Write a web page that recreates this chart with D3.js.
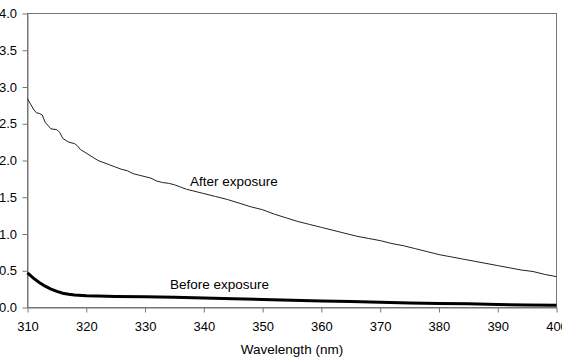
<!DOCTYPE html>
<html><head><meta charset="utf-8">
<script src="https://cdn.jsdelivr.net/npm/d3@7/dist/d3.min.js"></script>
<style>body{margin:0;background:#fff;}svg{display:block;}</style>
</head><body>
<svg id="chart" width="562" height="357"></svg>
<script>
const afterWl = [310,311,311.5,312,312.5,313,314,315,315.5,316,317,318,318.5,319,320,321,322,323,324,325,326,327,328,329,330,331,332,333,334,335,336,337,338,339,340,342,344,346,348,350,352,354,356,358,360,362,364,366,368,370,372,374,376,378,380,382,384,386,388,390,392,394,396,398,400];
const afterVal = [2.84,2.70,2.65,2.64,2.62,2.52,2.43,2.42,2.38,2.30,2.25,2.23,2.20,2.15,2.10,2.05,2.00,1.97,1.94,1.91,1.88,1.86,1.82,1.80,1.78,1.76,1.72,1.70,1.69,1.67,1.64,1.61,1.59,1.57,1.55,1.51,1.47,1.42,1.37,1.33,1.27,1.22,1.17,1.13,1.09,1.05,1.01,0.97,0.94,0.91,0.87,0.84,0.80,0.76,0.72,0.69,0.66,0.63,0.60,0.57,0.54,0.51,0.49,0.45,0.42];
const beforeWl = [310,311,312,313,314,315,316,317,318,320,322,325,330,335,340,345,350,355,360,365,370,375,380,385,390,395,400];
const beforeVal = [0.47,0.40,0.34,0.29,0.25,0.22,0.195,0.18,0.17,0.16,0.155,0.15,0.145,0.14,0.13,0.12,0.11,0.10,0.09,0.08,0.07,0.06,0.055,0.05,0.04,0.035,0.03];
const xTicks = [310,320,330,340,350,360,370,380,390,400];
const yTicks = [0,0.5,1.0,1.5,2.0,2.5,3.0,3.5,4.0];
const labels = ["After exposure","Before exposure"];
const xTitle = "Wavelength (nm)";

const svg = d3.select("#chart");
const m = {left:27.5, right:556.5, top:13.5, bottom:307.5};
const x = d3.scaleLinear().domain([310,400]).range([m.left,m.right]);
const y = d3.scaleLinear().domain([0,4]).range([m.bottom,m.top]);
const font = "'Liberation Sans', Arial, sans-serif";
const axisColor = "#777";

svg.append("rect").attr("x",m.left).attr("y",m.top).attr("width",m.right-m.left).attr("height",m.bottom-m.top)
  .attr("fill","none").attr("stroke",axisColor).attr("stroke-width",1);

const xAxis = svg.append("g").attr("transform",`translate(0,${m.bottom})`)
  .call(d3.axisBottom(x).tickValues(xTicks).tickFormat(d3.format("d")).tickSize(5).tickSizeOuter(0));
const yAxis = svg.append("g").attr("transform",`translate(${m.left},0)`)
  .call(d3.axisLeft(y).tickValues(yTicks).tickFormat(d3.format(".1f")).tickSize(5).tickSizeOuter(0));
[xAxis,yAxis].forEach(a=>{
  a.select(".domain").attr("stroke",axisColor);
  a.selectAll(".tick line").attr("stroke",axisColor);
  a.selectAll("text").attr("fill","#000").style("font-family",font).style("font-size","13px");
});
xAxis.selectAll("text").attr("y",14).attr("dy","0.71em");
yAxis.selectAll("text").attr("x",-10.5);

const line = d3.line().x(d=>x(d[0])).y(d=>y(d[1]));
svg.append("path").datum(afterWl.map((w,i)=>[w,afterVal[i]]))
  .attr("d",line).attr("fill","none").attr("stroke","#222").attr("stroke-width",1);
svg.append("path").datum(beforeWl.map((w,i)=>[w,beforeVal[i]]))
  .attr("d",line).attr("fill","none").attr("stroke","#000").attr("stroke-width",3);

svg.append("text").attr("x",190).attr("y",186).text(labels[0])
  .style("font-family",font).style("font-size","13.5px");
svg.append("text").attr("x",170).attr("y",289).text(labels[1])
  .style("font-family",font).style("font-size","13.5px");
svg.append("text").attr("x",292).attr("y",354).attr("text-anchor","middle").text(xTitle)
  .style("font-family",font).style("font-size","13.5px");
</script>
</body></html>
